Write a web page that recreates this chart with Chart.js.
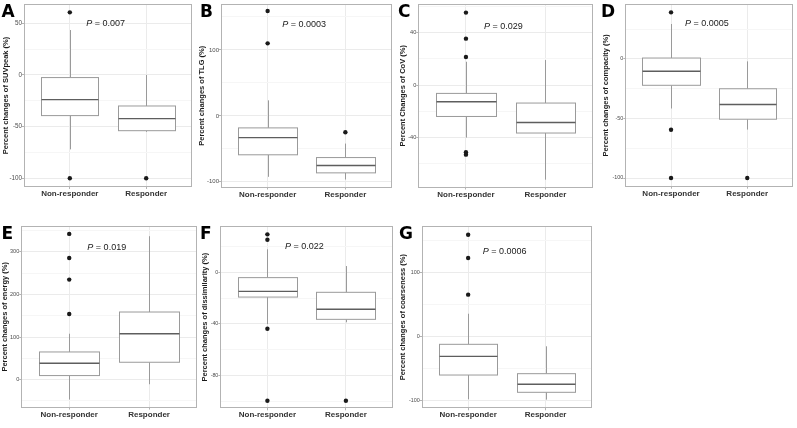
<!DOCTYPE html>
<html>
<head>
<meta charset="utf-8">
<script src="https://cdn.jsdelivr.net/npm/chart.js@4.4.1/dist/chart.umd.min.js"></script>
<style>
  html, body { margin: 0; padding: 0; background: #fff; overflow: hidden; }
  #wrap { position: relative; width: 797px; height: 428px; }
  #wrap canvas { position: absolute; }
  .letter { position: absolute; font: bold 17px "DejaVu Sans", sans-serif; line-height: 17px; color: #000; }
</style>
</head>
<body>
<div id="wrap"></div>
<script>
// === Datos ===
const categories = ['Non-responder', 'Responder'];
const panelLetters = ['A', 'B', 'C', 'D', 'E', 'F', 'G'];
const yTitles = [
  'Percent changes of SUVpeak (%)',
  'Percent changes of TLG (%)',
  'Percent Changes of CoV (%)',
  'Percent changes of compacity (%)',
  'Percent changes of energy (%)',
  'Percent changes of dissimilarity (%)',
  'Percent changes of coarseness (%)'
];
const pValues = ['0.007', '0.0003', '0.029', '0.0005', '0.019', '0.022', '0.0006'];
const pLabelY = [50, 139, 45, 30, 310, 20, 133];
const yTicks = [
  [50, 0, -50, -100],
  [100, 0, -100],
  [40, 0, -40],
  [0, -50, -100],
  [300, 200, 100, 0],
  [0, -40, -80],
  [100, 0, -100]
];
const yMin = [-108.4, -108.6, -78.6, -107.3, -65.9, -105.6, -112.5];
const yMax = [68.7, 169.7, 62.2, 46.2, 361, 36, 172.4];

// [bigote inferior, Q1, mediana, Q3, bigote superior] -> Non-responder, Responder
const suvpeakBox = [[-72, -39.3, -23.8, -2.5, 43.5], [-55, -53.9, -42.2, -30, 0]];
const suvpeakOut = [[60.6, -100], [-100]];
const tlgBox = [[-92.4, -59, -32.9, -18.2, 23.6], [-96.5, -86.4, -75.3, -63.2, -42]];
const tlgOut = [[159, 110], [-24.8]];
const covBox = [[-40.3, -24.1, -12.8, -6.4, 17.9], [-72.6, -36.8, -28.7, -13.8, 19.2]];
const covOut = [[55.6, 35.6, 21.5, -51.5, -53.4], []];
const compacityBox = [[-41.6, -22.1, -10.3, 0.8, 29.4], [-59.3, -50.6, -38.2, -25, -2]];
const compacityOut = [[39.2, -59.5, -100], [-100]];
const energyBox = [[-47, 9.4, 38.4, 64.9, 107.8], [-11, 40.7, 107.8, 158.8, 337]];
const energyOut = [[342.4, 285.9, 235, 154.2], []];
const dissimBox = [[-40.2, -19.2, -14.8, -4.1, 17.9], [-38.8, -36.5, -28.7, -15.5, 4.9]];
const dissimOut = [[29.5, 25.3, -43.8, -99.7], [-99.7]];
const coarseBox = [[-98.4, -60.5, -31.3, -12.5, 35.3], [-99, -87.5, -75, -58.4, -15.6]];
const coarseOut = [[158.7, 122.4, 65.1], []];

const boxes = [suvpeakBox, tlgBox, covBox, compacityBox, energyBox, dissimBox, coarseBox];
const outliers = [suvpeakOut, tlgOut, covOut, compacityOut, energyOut, dissimOut, coarseOut];

// === Posiciones (px absolutos): marco del panel [izq, der, arriba, abajo] ===
const frames = [
  [24, 194, 4, 187], [221, 394, 4, 187.5], [418.3, 595, 4, 187.5], [625.3, 795, 4, 186.7],
  [21.3, 199, 225.7, 407.3], [220.3, 395, 226, 408.3], [421.7, 593.7, 226, 408.3]
];
const titleCenters = [6, 202, 403.3, 606, 4.5, 205.3, 403];
const letterPos = [[1.5, 3], [200, 3], [398, 3], [601, 3], [1.5, 225], [200, 225], [399, 225]];
const tickSizes = [6.3, 6, 5.6, 5.4, 5.6, 5.3, 5.4];

const FONT = '"Liberation Sans", Arial, sans-serif';
const TITLE_SIZE = 7.5;

// === Plugin: cajas, bigotes, marco y etiqueta P ===
const boxPlugin = {
  id: 'boxes',
  beforeDatasetsDraw(chart) {
    const { ctx, chartArea: a, scales: { x, y } } = chart;
    const cfg = chart.options.plugins.boxes;
    ctx.save();
    ctx.strokeStyle = '#b3b3b3';
    ctx.lineWidth = 1;
    const l = Math.round(a.left) + 0.5, t = Math.round(a.top) + 0.5;
    ctx.strokeRect(l, t, Math.round(a.right) - 0.5 - l, Math.round(a.bottom) - 0.5 - t);

    cfg.stats.forEach((s, i) => {
      const cx = Math.round(x.getPixelForValue(i + 1)) + 0.5;
      const x0 = Math.round(x.getPixelForValue(i + 1 - 0.375)) + 0.5;
      const x1 = Math.round(x.getPixelForValue(i + 1 + 0.375)) + 0.5;
      const [lo, q1, med, q3, hi] = s.map(v => y.getPixelForValue(v));
      ctx.strokeStyle = '#9a9a9a';
      ctx.lineWidth = 1;
      ctx.beginPath();
      ctx.moveTo(cx, lo); ctx.lineTo(cx, q1);
      ctx.moveTo(cx, q3); ctx.lineTo(cx, hi);
      ctx.stroke();
      ctx.fillStyle = '#fff';
      ctx.fillRect(x0, q3, x1 - x0, q1 - q3);
      ctx.strokeRect(x0, q3, x1 - x0, q1 - q3);
      ctx.strokeStyle = '#5e5e5e';
      ctx.lineWidth = 1.4;
      ctx.beginPath();
      ctx.moveTo(x0, med); ctx.lineTo(x1, med);
      ctx.stroke();
    });
    ctx.restore();
  },
  afterDraw(chart) {
    const { ctx, scales: { x, y } } = chart;
    const cfg = chart.options.plugins.boxes;
    const px = x.getPixelForValue(1.47), py = y.getPixelForValue(cfg.pY);
    ctx.save();
    ctx.fillStyle = '#1a1a1a';
    ctx.textBaseline = 'middle';
    ctx.font = `italic 9px ${FONT}`;
    const w1 = ctx.measureText('P').width;
    ctx.font = `9px ${FONT}`;
    const rest = ' = ' + cfg.p;
    const w2 = ctx.measureText(rest).width;
    const sx = px - (w1 + w2) / 2;
    ctx.font = `italic 9px ${FONT}`;
    ctx.fillText('P', sx, py);
    ctx.font = `9px ${FONT}`;
    ctx.fillText(rest, sx + w1, py);
    ctx.restore();
  }
};

// === Crear cada panel ===
const wrap = document.getElementById('wrap');

panelLetters.forEach((letra, i) => {
  const [fl, fr, ft, fb] = frames[i];
  const left = Math.floor(titleCenters[i] - 6);
  const top = ft - 4;
  const width = Math.ceil(fr - left + 2);
  const height = Math.ceil(fb - top + 24);

  const canvas = document.createElement('canvas');
  canvas.width = width;
  canvas.height = height;
  canvas.style.left = left + 'px';
  canvas.style.top = top + 'px';
  canvas.style.width = width + 'px';
  canvas.style.height = height + 'px';
  wrap.appendChild(canvas);

  const lab = document.createElement('div');
  lab.className = 'letter';
  lab.textContent = letra;
  lab.style.left = letterPos[i][0] + 'px';
  lab.style.top = letterPos[i][1] + 'px';
  wrap.appendChild(lab);

  // grilla menor a mitad de cada paso
  const majors = yTicks[i];
  const step = Math.abs(majors[0] - majors[1]);
  const minors = [];
  for (let k = 0; k < majors.length - 1; k++) minors.push((majors[k] + majors[k + 1]) / 2);
  const hiM = Math.max(...majors) + step / 2, loM = Math.min(...majors) - step / 2;
  if (hiM <= yMax[i]) minors.push(hiM);
  if (loM >= yMin[i]) minors.push(loM);
  const allTicks = majors.concat(minors).sort((a, b) => a - b);
  const isMajor = v => majors.includes(v);

  const yWidth = fl - left;
  const titlePad = titleCenters[i] - left - (TITLE_SIZE * 1.2) / 2;

  const puntos = [];
  outliers[i].forEach((vals, c) => vals.forEach(v => puntos.push({ x: c + 1, y: v })));

  new Chart(canvas, {
    type: 'scatter',
    data: {
      datasets: [{
        data: puntos,
        pointRadius: 2.2,
        pointBackgroundColor: '#1a1a1a',
        pointBorderWidth: 0
      }]
    },
    options: {
      responsive: false,
      animation: false,
      devicePixelRatio: 1,
      events: [],
      layout: {
        padding: { left: 0, top: ft - top, right: width - (fr - left), bottom: height - (fb - top) - 20 }
      },
      plugins: {
        legend: { display: false },
        tooltip: { enabled: false },
        boxes: { stats: boxes[i], p: pValues[i], pY: pLabelY[i] }
      },
      scales: {
        x: {
          type: 'linear',
          min: 0.4,
          max: 2.6,
          afterBuildTicks: s => { s.ticks = [{ value: 1 }, { value: 2 }]; },
          afterFit: s => { s.height = 20; },
          border: { display: false },
          grid: { color: '#ebebeb', tickColor: '#b3b3b3', tickLength: 2 },
          ticks: {
            callback: v => categories[v - 1],
            font: { family: FONT, size: 8, weight: 'bold' },
            color: '#333',
            padding: 0,
            maxRotation: 0,
            autoSkip: false
          }
        },
        y: {
          type: 'linear',
          min: yMin[i],
          max: yMax[i],
          afterBuildTicks: s => { s.ticks = allTicks.map(v => ({ value: v })); },
          afterFit: s => { s.width = yWidth; },
          border: { display: false },
          grid: {
            color: c => (c.tick && isMajor(c.tick.value)) ? '#ebebeb' : '#f6f6f6',
            tickColor: c => (c.tick && isMajor(c.tick.value)) ? '#b3b3b3' : 'rgba(0,0,0,0)',
            tickLength: 2
          },
          ticks: {
            callback: v => isMajor(v) ? String(v) : '',
            font: { family: FONT, size: tickSizes[i] },
            color: '#4d4d4d',
            padding: 0,
            autoSkip: false
          },
          title: {
            display: true,
            text: yTitles[i],
            font: { family: FONT, size: TITLE_SIZE, weight: 'bold' },
            color: '#1a1a1a',
            padding: { top: titlePad, bottom: 0 }
          }
        }
      }
    },
    plugins: [boxPlugin]
  });
});
</script>
</body>
</html>
